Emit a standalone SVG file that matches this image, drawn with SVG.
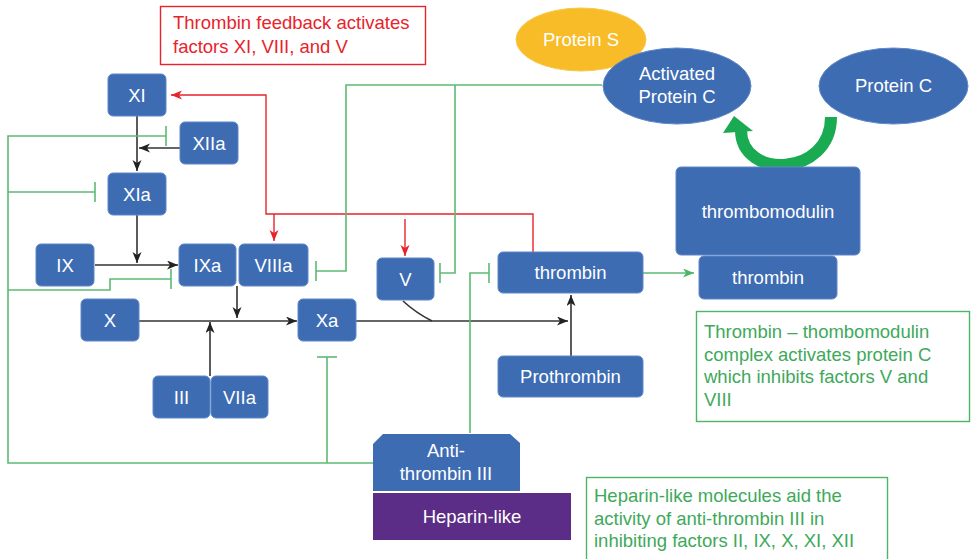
<svg xmlns="http://www.w3.org/2000/svg" width="971" height="559" viewBox="0 0 971 559">
  <style>
    .node { fill: #3d6cb3; stroke: #5f88c8; stroke-width: 1; }
    .lbl { font-family: "Liberation Sans", Arial, sans-serif; font-size: 18.5px; fill: #ffffff; text-anchor: middle; }
    .note { font-family: "Liberation Sans", Arial, sans-serif; font-size: 18.5px; }
    .black { fill: none; stroke: #333333; stroke-width: 1.6; }
    .red { fill: none; stroke: #e8232b; stroke-width: 1.4; }
    .green { fill: none; stroke: #5dba74; stroke-width: 1.6; }
  </style>
  <defs>
    <marker id="ah-black" markerUnits="userSpaceOnUse" markerWidth="12" markerHeight="10" refX="11" refY="4.5" orient="auto">
      <path d="M0,0 L11,4.5 L0,9 L3,4.5 z" fill="#222222"/>
    </marker>
    <marker id="ah-red" markerUnits="userSpaceOnUse" markerWidth="12" markerHeight="10" refX="11" refY="4.5" orient="auto">
      <path d="M0,0 L11,4.5 L0,9 L3,4.5 z" fill="#e8232b"/>
    </marker>
    <marker id="ah-green" markerUnits="userSpaceOnUse" markerWidth="12" markerHeight="10" refX="11" refY="4.5" orient="auto">
      <path d="M0,0 L11,4.5 L0,9 L3,4.5 z" fill="#4db566"/>
    </marker>
  </defs>

  <!-- annotation boxes -->
  <g id="note-feedback">
    <rect x="160.5" y="6.5" width="265" height="58" fill="#ffffff" stroke="#e8232b" stroke-width="1.4"/>
    <text class="note" fill="#e8232b" x="173" y="29">Thrombin feedback activates</text>
    <text class="note" fill="#e8232b" x="173" y="53">factors XI, VIII, and V</text>
  </g>
  <g id="note-thrombomodulin">
    <rect x="696.5" y="311.5" width="273" height="110" fill="#ffffff" stroke="#4db566" stroke-width="1.4"/>
    <text class="note" fill="#3ea95a" x="704" y="338">Thrombin – thombomodulin</text>
    <text class="note" fill="#3ea95a" x="704" y="361">complex activates protein C</text>
    <text class="note" fill="#3ea95a" x="704" y="383">which inhibits factors V and</text>
    <text class="note" fill="#3ea95a" x="704" y="406">VIII</text>
  </g>
  <g id="note-heparin">
    <rect x="586.5" y="477.5" width="301" height="90" fill="#ffffff" stroke="#4db566" stroke-width="1.4"/>
    <text class="note" fill="#3ea95a" x="594" y="502">Heparin-like molecules aid the</text>
    <text class="note" fill="#3ea95a" x="594" y="525">activity of anti-thrombin III in</text>
    <text class="note" fill="#3ea95a" x="594" y="547">inhibiting factors II, IX, X, XI, XII</text>
  </g>

  <!-- connectors -->
  <g id="connectors">
    <!-- cascade (black) -->
    <path class="black" d="M137,116 V171" marker-end="url(#ah-black)"/>
    <path class="black" d="M180,148 H139" marker-end="url(#ah-black)"/>
    <path class="black" d="M137,215 V263" marker-end="url(#ah-black)"/>
    <path class="black" d="M95,265 H178" marker-end="url(#ah-black)"/>
    <path class="black" d="M237,286 V318" marker-end="url(#ah-black)"/>
    <path class="black" d="M139,321 H297" marker-end="url(#ah-black)"/>
    <path class="black" d="M210,376 V322" marker-end="url(#ah-black)"/>
    <path class="black" d="M356,321 H568" marker-end="url(#ah-black)"/>
    <path class="black" d="M403,301 Q416,313 432,321"/>
    <path class="black" d="M571,356 V295" marker-end="url(#ah-black)"/>

    <!-- thrombin feedback (red) -->
    <path class="red" d="M533,252 V214 H266 V95 H171" marker-end="url(#ah-red)"/>
    <path class="red" d="M274,214 V241" marker-end="url(#ah-red)"/>
    <path class="red" d="M405,219 V256" marker-end="url(#ah-red)"/>

    <!-- anti-thrombin III inhibition (green) -->
    <path class="green" d="M373,463 H8 V136 H166"/>
    <path class="green" d="M166,126 V146"/>
    <path class="green" d="M8,192 H95"/>
    <path class="green" d="M95,182 V202"/>
    <path class="green" d="M8,290 H110 V279 H171"/>
    <path class="green" d="M171,269 V289"/>
    <path class="green" d="M327,463 V357"/>
    <path class="green" d="M317,357 H337"/>
    <path class="green" d="M470,433 V273 H489"/>
    <path class="green" d="M489,263 V283"/>

    <!-- activated protein C inhibition (green) -->
    <path class="green" d="M602,85 H346 V271 H316"/>
    <path class="green" d="M316,261 V281"/>
    <path class="green" d="M455,85 V273 H440"/>
    <path class="green" d="M440,263 V283"/>

    <!-- thrombin to thrombomodulin complex -->
    <path class="green" d="M643,273 H694" marker-end="url(#ah-green)"/>

    <!-- protein C activation (thick curved arrow) -->
    <path d="M831,117 C831,177 741,180 741,130" fill="none" stroke="#1aaa52" stroke-width="12"/>
    <polygon points="723,133 734,116 753,131" fill="#1aaa52"/>
  </g>

  <!-- nodes -->
  <g id="node-XI"><rect class="node" x="108" y="74" width="58" height="42" rx="5"/><text class="lbl" x="137" y="101.5">XI</text></g>
  <g id="node-XIIa"><rect class="node" x="180" y="122" width="58" height="42" rx="5"/><text class="lbl" x="209" y="149.5">XIIa</text></g>
  <g id="node-XIa"><rect class="node" x="108" y="173" width="58" height="42" rx="5"/><text class="lbl" x="137" y="200.5">XIa</text></g>
  <g id="node-IX"><rect class="node" x="36" y="244" width="58" height="42" rx="5"/><text class="lbl" x="65" y="271.5">IX</text></g>
  <g id="node-IXa"><rect class="node" x="179" y="244" width="57" height="42" rx="5"/><text class="lbl" x="207.5" y="271.5">IXa</text></g>
  <g id="node-VIIIa"><rect class="node" x="239" y="244" width="69" height="42" rx="5"/><text class="lbl" x="273.5" y="271.5">VIIIa</text></g>
  <g id="node-X"><rect class="node" x="81" y="299" width="58" height="42" rx="5"/><text class="lbl" x="110" y="326.5">X</text></g>
  <g id="node-Xa"><rect class="node" x="298" y="299" width="58" height="42" rx="5"/><text class="lbl" x="327" y="326.5">Xa</text></g>
  <g id="node-III"><rect class="node" x="153" y="376" width="57" height="42" rx="5"/><text class="lbl" x="181.5" y="403.5">III</text></g>
  <g id="node-VIIa"><rect class="node" x="211" y="376" width="57" height="42" rx="5"/><text class="lbl" x="239.5" y="403.5">VIIa</text></g>
  <g id="node-V"><rect class="node" x="377" y="258" width="57" height="42" rx="5"/><text class="lbl" x="405.5" y="285.5">V</text></g>
  <g id="node-thrombin"><rect class="node" x="498" y="252" width="145" height="41" rx="5"/><text class="lbl" x="570.5" y="279">thrombin</text></g>
  <g id="node-prothrombin"><rect class="node" x="498" y="356" width="145" height="41" rx="5"/><text class="lbl" x="570.5" y="383">Prothrombin</text></g>
  <g id="node-thrombomodulin"><rect class="node" x="676" y="167" width="184" height="88" rx="5"/><text class="lbl" x="768" y="218">thrombomodulin</text></g>
  <g id="node-thrombin-complex"><rect class="node" x="699" y="256" width="138" height="43" rx="5"/><text class="lbl" x="768" y="283.5">thrombin</text></g>
  <g id="node-protein-s"><ellipse cx="581" cy="39.5" rx="65" ry="31.5" fill="#f7bc28" stroke="#f9c84a"/><text class="lbl" x="581" y="46">Protein S</text></g>
  <g id="node-activated-protein-c"><ellipse cx="677" cy="86" rx="74" ry="38" class="node"/><text class="lbl" x="677" y="80">Activated</text><text class="lbl" x="677" y="103">Protein C</text></g>
  <g id="node-protein-c"><ellipse cx="893.5" cy="86" rx="74.5" ry="38" class="node"/><text class="lbl" x="893.5" y="92">Protein C</text></g>
  <g id="node-antithrombin">
    <polygon points="383,434 510,434 520,443 520,491 373,491 373,444" fill="#3d6cb3"/>
    <text class="lbl" x="446" y="457">Anti-</text>
    <text class="lbl" x="446" y="480">thrombin III</text>
  </g>
  <g id="node-heparin">
    <rect x="373" y="493" width="198" height="47" fill="#5b2d86"/>
    <text class="lbl" x="472" y="523">Heparin-like</text>
  </g>
</svg>
